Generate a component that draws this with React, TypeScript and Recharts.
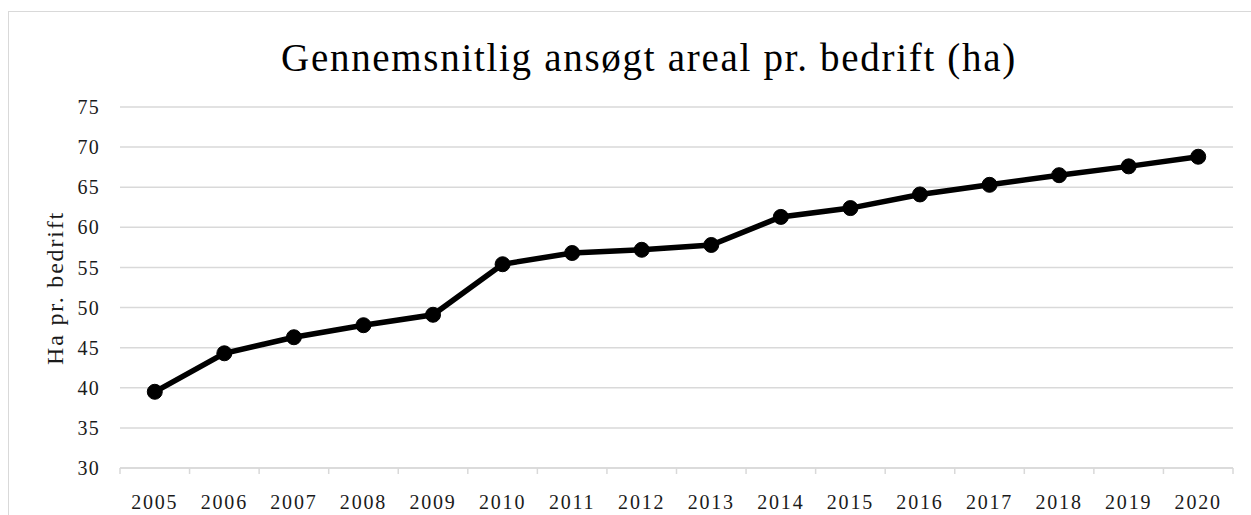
import { CartesianGrid, Line, LineChart, XAxis, YAxis } from "recharts";

const years = ["2005", "2006", "2007", "2008", "2009", "2010", "2011", "2012", "2013", "2014", "2015", "2016", "2017", "2018", "2019", "2020"];
const areaPerFarm = [39.5, 44.3, 46.3, 47.8, 49.1, 55.4, 56.8, 57.2, 57.8, 61.3, 62.4, 64.1, 65.3, 66.5, 67.6, 68.8];
const yTicks = [30, 35, 40, 45, 50, 55, 60, 65, 70, 75];

const data = years.map((year, i) => ({ year, value: areaPerFarm[i] }));

const FONT = "'Liberation Serif', 'DejaVu Serif', serif";
const CHART_W = 1242;
const CHART_H = 503;
const MARGIN = { top: 95, right: 18, bottom: 0, left: 30 };
const Y_AXIS_W = 81;
const PLOT_W = CHART_W - MARGIN.left - Y_AXIS_W - MARGIN.right;
const BAND = PLOT_W / years.length;

function YearTick(props: any) {
  const { x, y, payload, index } = props;
  const half = BAND / 2;
  return (
    <g>
      <line x1={x - half} x2={x - half} y1={y} y2={y + 6} stroke="#d9d9d9" strokeWidth={1.5} />
      {index === years.length - 1 && (
        <line x1={x + half} x2={x + half} y1={y} y2={y + 6} stroke="#d9d9d9" strokeWidth={1.5} />
      )}
      <text x={x} y={y + 41} textAnchor="middle" fontFamily={FONT} fontSize={20} letterSpacing={1.8} fill="#1a1a1a">
        {payload.value}
      </text>
    </g>
  );
}

export default function App() {
  return (
    <div
      style={{
        position: "fixed",
        left: 8,
        top: 11,
        width: 1243,
        height: 504,
        boxSizing: "border-box",
        borderTop: "1px solid #d9d9d9",
        borderLeft: "1px solid #d9d9d9",
        background: "#fff",
      }}
    >
      <div
        style={{
          position: "absolute",
          left: 640,
          top: 26,
          transform: "translateX(-50%)",
          whiteSpace: "nowrap",
          fontFamily: FONT,
          fontSize: 39,
          letterSpacing: 1.7,
          lineHeight: 1,
          color: "#000",
        }}
      >
        Gennemsnitlig ansøgt areal pr. bedrift (ha)
      </div>
      <div
        style={{
          position: "absolute",
          left: 46,
          top: 276,
          transform: "translate(-50%, -50%) rotate(-90deg)",
          whiteSpace: "nowrap",
          fontFamily: FONT,
          fontSize: 24,
          letterSpacing: 1.8,
          lineHeight: 1,
          color: "#1a1a1a",
        }}
      >
        Ha pr. bedrift
      </div>
      <LineChart width={CHART_W} height={CHART_H} data={data} margin={MARGIN}>
        <CartesianGrid vertical={false} stroke="#d9d9d9" strokeWidth={1.5} />
        <XAxis
          dataKey="year"
          height={47}
          padding={{ left: BAND / 2, right: BAND / 2 }}
          axisLine={{ stroke: "#d9d9d9", strokeWidth: 1.5 }}
          tickLine={false}
          tickSize={0}
          tickMargin={0}
          interval={0}
          tick={<YearTick />}
        />
        <YAxis
          width={Y_AXIS_W}
          domain={[30, 75]}
          ticks={yTicks}
          interval={0}
          axisLine={false}
          tickLine={false}
          tickSize={0}
          tickMargin={20}
          tick={{ fontFamily: FONT, fontSize: 20, fill: "#1a1a1a", letterSpacing: 1.2 }}
        />
        <Line
          type="linear"
          dataKey="value"
          stroke="#000"
          strokeWidth={5.5}
          dot={{ r: 7.5, fill: "#000", stroke: "#000", strokeWidth: 1 }}
          isAnimationActive={false}
        />
      </LineChart>
    </div>
  );
}
